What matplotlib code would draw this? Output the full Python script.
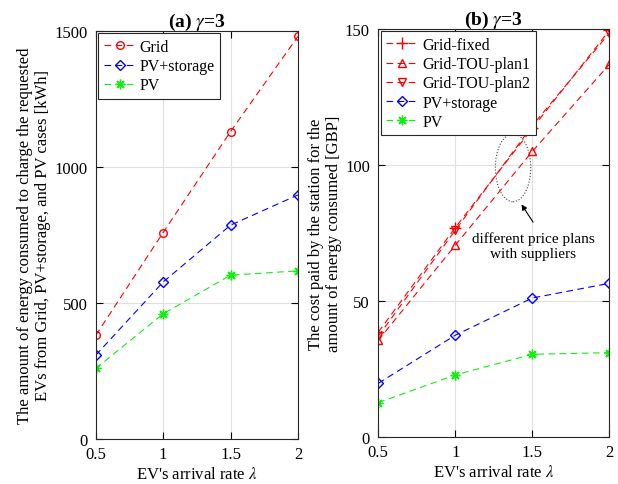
import matplotlib.pyplot as plt
from matplotlib.patches import Ellipse

# arrival rates
rates = [0.5, 1, 1.5, 2]

# (a) energy drawn per source [kWh]
energyGrid = [381, 759, 1130, 1480]
energyPVstorage = [308, 577, 786, 897]
energyPV = [259, 460, 602, 618]

# (b) cost paid per price plan [GBP]
costFixed = [38.5, 77, 113.5, 149.5]
costPlan1 = [35.5, 70.5, 105, 137]
costPlan2 = [37, 76, 114.5, 148.5]
costPVstorage = [19.7, 37.4, 51.1, 56.5]
costPV = [12.6, 22.8, 30.4, 31]

plt.rcParams['font.family'] = ['Liberation Serif', 'DejaVu Serif']
plt.rcParams['mathtext.fontset'] = 'stix'
plt.rcParams['font.size'] = 12

green = '#11ee11'
dash = (0, (6, 4))
asterisk = (8, 2, 0)

def styleAxes(ax):
    'MATLAB-like box, grid and inward ticks'
    ax.grid(True, color='#e0e0e0', linewidth=0.8)
    ax.set_axisbelow(True)
    ax.tick_params(direction='in', top=True, right=True, length=5, width=0.8, labelsize=12)
    ax.tick_params(axis='y', pad=6)
    ax.tick_params(axis='x', pad=5)
    for s in ax.spines.values():
        s.set_linewidth(0.8)
        s.set_color('#262626')
    ax.set_xlim(0.5, 2)
    ax.set_xticks(rates)
    ax.set_xticklabels(['0.5', '1', '1.5', '2'])
    ax.set_xlabel(r"EV's arrival rate $\lambda$", fontsize=12, labelpad=3)

def addLegend(ax):
    leg = ax.legend(loc='upper left', fancybox=False, edgecolor='#262626', framealpha=1,
                    handlelength=2.0, borderaxespad=0.15, fontsize=11.5, borderpad=0.35,
                    labelspacing=0.2, handletextpad=0.25)
    leg.get_frame().set_linewidth(0.8)

fig = plt.figure(figsize=(6.18, 4.85), dpi=100)

#left panel: energy
ax1 = fig.add_axes([0.155, 0.093, 0.327, 0.841])
ax1.plot(rates, energyGrid, color='r', linestyle=dash, lw=0.8, marker='o', ms=5.5, mfc='none', label='Grid')
ax1.plot(rates, energyPVstorage, color='b', linestyle=dash, lw=0.8, marker='D', ms=5, mfc='none', label='PV+storage')
ax1.plot(rates, energyPV, color=green, linestyle=dash, lw=0.8, marker=asterisk, ms=7, label='PV')
styleAxes(ax1)
ax1.set_ylim(0, 1500)
ax1.set_yticks([0, 500, 1000, 1500])
ax1.set_ylabel('The amount of energy consumed to charge the requested\nEVs from Grid, PV+storage, and PV cases [kWh]', fontsize=12, labelpad=2)
ax1.set_title(r'(a) $\gamma$=3', fontweight='bold', fontsize=14, pad=4)
addLegend(ax1)

#right panel: cost
ax2 = fig.add_axes([0.612, 0.097, 0.374, 0.841])
ax2.plot(rates, costFixed, color='r', linestyle=dash, lw=0.8, marker='+', ms=8, label='Grid-fixed')
ax2.plot(rates, costPlan1, color='r', linestyle=dash, lw=0.8, marker='^', ms=6, mfc='none', label='Grid-TOU-plan1')
ax2.plot(rates, costPlan2, color='r', linestyle=dash, lw=0.8, marker='v', ms=6, mfc='none', label='Grid-TOU-plan2')
ax2.plot(rates, costPVstorage, color='b', linestyle=dash, lw=0.8, marker='D', ms=5, mfc='none', label='PV+storage')
ax2.plot(rates, costPV, color=green, linestyle=dash, lw=0.8, marker=asterisk, ms=7, label='PV')
styleAxes(ax2)
ax2.set_ylim(0, 150)
ax2.set_yticks([0, 50, 100, 150])
ax2.set_ylabel('The cost paid by the station for the\namount of energy consumed [GBP]', fontsize=12, labelpad=2)
ax2.set_title(r'(b) $\gamma$=3', fontweight='bold', fontsize=14, pad=4)
addLegend(ax2)

#note on the price plans
ax2.add_patch(Ellipse((1.375, 99), 0.23, 25, angle=0, fill=False, linestyle=':', lw=0.8, edgecolor='#444444'))
ax2.annotate('', xy=(1.43, 85.5), xytext=(1.505, 79),
             arrowprops=dict(arrowstyle='-|>', color='black', lw=0.8, shrinkA=0, shrinkB=0, mutation_scale=8))
ax2.text(1.505, 70.5, 'different price plans\nwith suppliers', ha='center', va='center', fontsize=11)

fig.savefig('out.png', dpi=100)
